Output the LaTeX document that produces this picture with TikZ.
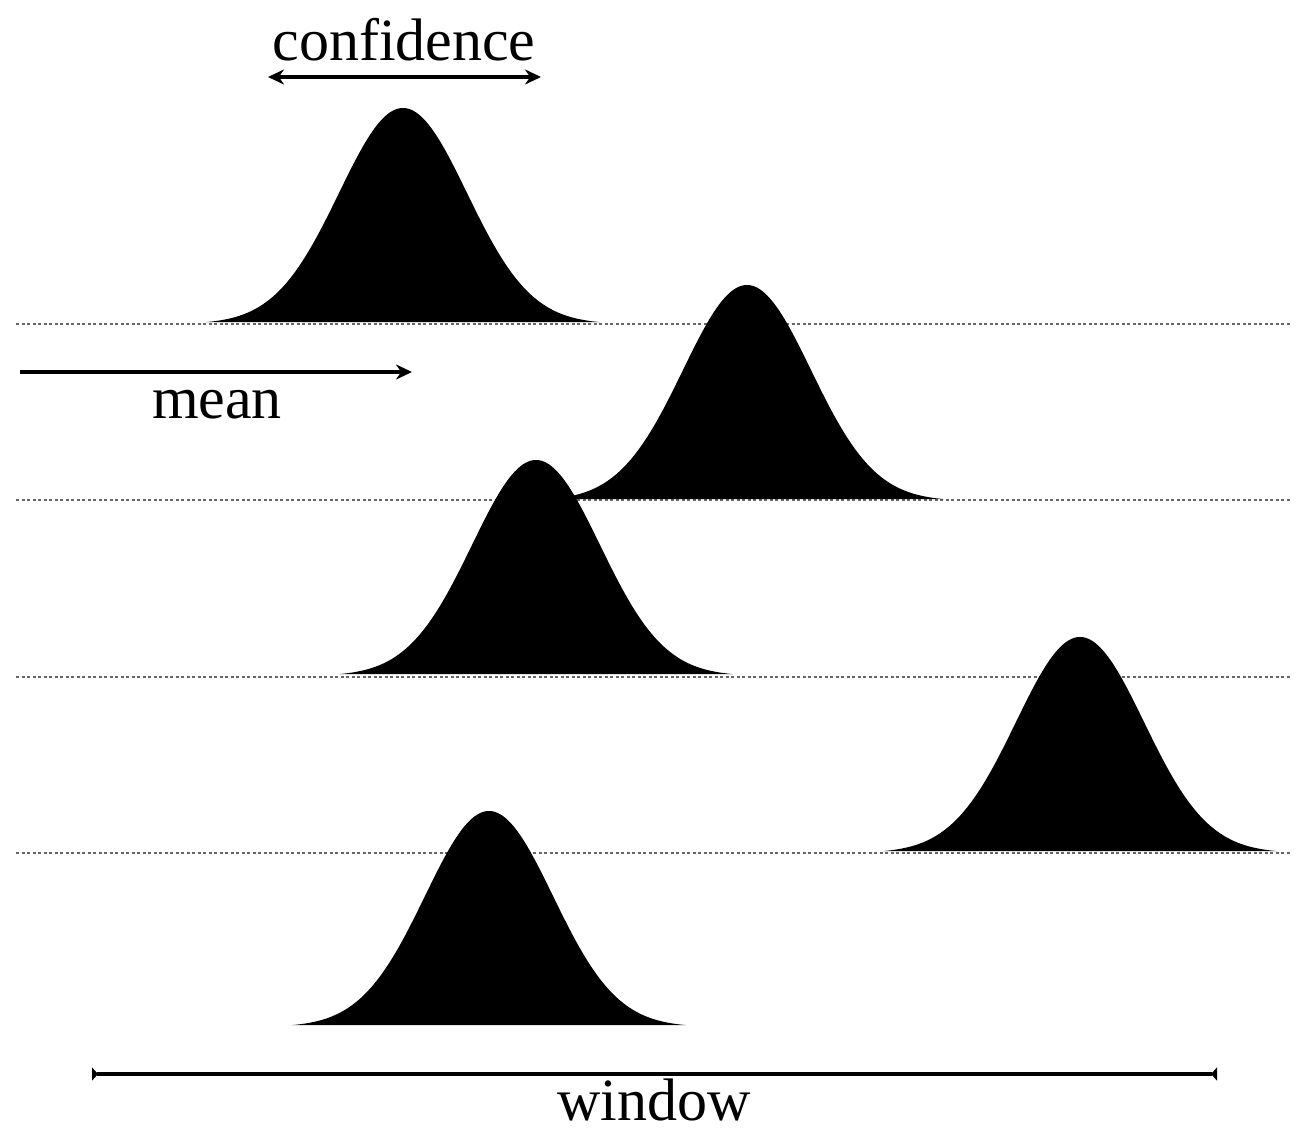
\documentclass[tikz,border=0pt]{standalone}
\usepackage{fontspec}
\setmainfont{Liberation Serif}
\usetikzlibrary{arrows.meta}
\begin{document}
\begin{tikzpicture}[x=1pt,y=-1pt,
  guide/.style={draw=black!60, line width=1.5pt, dash pattern=on 3pt off 2.5pt},
  bell/.style={fill=black},
  measure/.style={line width=3.6pt},
  lbl/.style={font=\fontsize{60}{60}\selectfont, inner sep=0pt, anchor=base}]
\useasboundingbox (0,0) rectangle (1312,1148);
% guide lines
\foreach \yy in {324,500,677,853}{
  \draw[guide] (16,\yy) -- (1290,\yy);
}
% bells: center x, base y
\foreach \cx/\by in {403/324, 747/501, 536/676, 1080/853, 489/1027}{
  \fill[bell] plot[domain=-197:197, samples=90, smooth] ({\cx+\x}, {\by - 216*exp(-0.5*(\x/64)^2)}) -- cycle;
}
% confidence
\coordinate (cL) at (268,77);
\coordinate (cR) at (541,77);
\draw[measure, {Stealth[length=16pt,width=15pt]}-{Stealth[length=16pt,width=15pt]}] (cL) -- (cR);
\node[lbl] (conf) at (404,60) {confidence};
% mean
\coordinate (mL) at (20,372);
\coordinate (mR) at (412,372);
\draw[measure, -{Stealth[length=16pt,width=15pt]}] (mL) -- (mR);
\node[lbl] (mean) at (217,418) {mean};
% window
\coordinate (wL) at (92,1074);
\coordinate (wR) at (1217,1074);
\draw[measure, {Triangle[reversed,length=6pt,width=13pt]}-{Triangle[reversed,length=6pt,width=13pt]}] (wL) -- (wR);
\node[lbl] (win) at (654,1120) {window};
\end{tikzpicture}
\end{document}
